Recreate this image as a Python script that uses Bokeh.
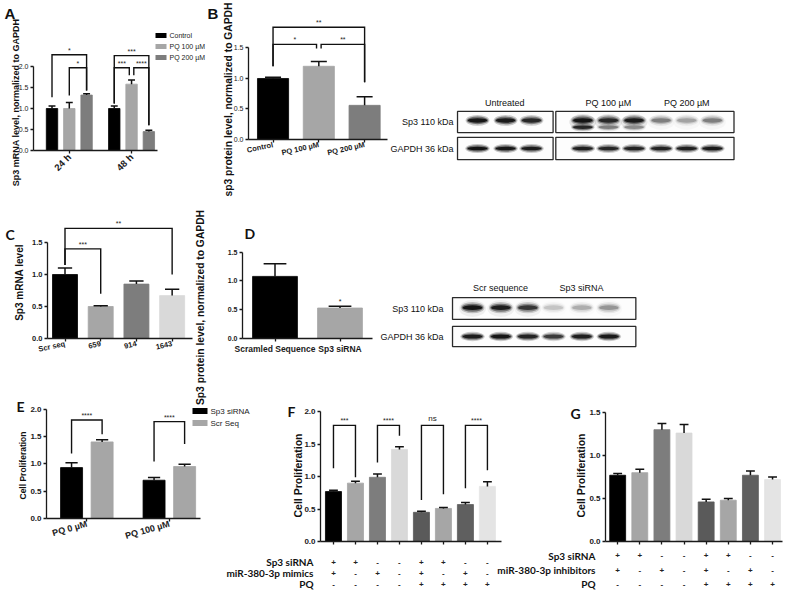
import math
from bokeh.plotting import figure
from bokeh.models import Range1d, FixedTicker, NumeralTickFormatter, ColumnDataSource
from bokeh.layouts import row, column
from bokeh.core.properties import value
from bokeh.embed import file_html
from bokeh.resources import INLINE

ARIAL = "Liberation Sans"
CAL = "Lato"

# ---------------- data ----------------
# A: Sp3 mRNA level after PQ treatment
a_times = ["24 h", "48 h"]
a_series = ["Control", "PQ 100 µM", "PQ 200 µM"]
a_values = [[1.00, 1.00], [1.00, 1.58], [1.32, 0.45]]
a_errors = [[0.06, 0.06], [0.14, 0.10], [0.03, 0.03]]
a_colors = ["#000000", "#a6a6a6", "#7d7d7d"]
# (text, bar i, bar j, height, leg i end, leg j end, shift i, shift j)
a_brackets = [("*", 0, 2, 2.28, 1.27, 1.43, 0, 0), ("*", 1, 2, 1.97, 1.31, 1.43, 0, 0),
              ("***", 3, 5, 2.26, 1.12, 0.60, 0, 0), ("***", 3, 4, 1.97, 1.12, 1.79, 0, -0.13),
              ("****", 4, 5, 1.97, 1.79, 0.60, 0.13, 0)]

# B: Sp3 protein level
b_labels = ["Control", "PQ 100 µM", "PQ 200 µM"]
b_values = [1.00, 1.20, 0.56]
b_errors = [0.02, 0.08, 0.14]
b_colors = ["#000000", "#a6a6a6", "#7d7d7d"]
b_brackets = [("**", 0, 2, 1.84, 1.20, 0.94, 0, 0), ("*", 0, 1, 1.56, 1.20, 1.49, 0, -0.05),
              ("**", 1, 2, 1.56, 1.49, 0.94, 0.05, 0)]

# Western blot 1
b1_lanes = [0.0, 1.04, 2.0, 3.9, 4.85, 5.8, 6.8, 7.75, 8.7]
b1_sp3 = [0.95, 0.92, 0.82, 0.95, 0.80, 0.90, 0.38, 0.25, 0.38]
b1_sp3_low = [0.0, 0.0, 0.0, 0.80, 0.35, 0.30, 0.0, 0.0, 0.0]
b1_smear = [0.0, 0.0, 0.0, 0.55, 0.45, 0.45, 0.15, 0.12, 0.15]
b1_gapdh = [0.98, 0.95, 0.90, 0.88, 0.82, 0.85, 0.85, 0.88, 0.92]
b1_headers = ["Untreated", "PQ 100 µM", "PQ 200 µM"]
b1_header_lanes = [(0, 3), (3, 6), (6, 9)]
b1_membranes = [(0, 3), (3, 9)]
b1_rows = ["Sp3 110 kDa", "GAPDH 36 kDa"]

# C: Sp3 mRNA after siRNA
c_labels = ["Scr seq", "659", "914", "1643"]
c_values = [1.00, 0.50, 0.85, 0.67]
c_errors = [0.10, 0.01, 0.05, 0.10]
c_colors = ["#000000", "#a6a6a6", "#7d7d7d", "#d9d9d9"]
c_brackets = [("**", 0, 3, 1.72, 1.15, 1.00, 0, 0), ("***", 0, 1, 1.40, 1.15, 0.70, 0, 0)]

# D: Sp3 protein after siRNA
d_labels = ["Scramled Sequence", "Sp3 siRNA"]
d_values = [1.08, 0.53]
d_errors = [0.22, 0.03]
d_colors = ["#000000", "#a6a6a6"]
d_marks = ["", "*"]

# Western blot 2
b2_lanes = [0.0, 1.05, 2.05, 3.0, 4.05, 5.05]
b2_sp3 = [0.95, 0.88, 0.72, 0.15, 0.22, 0.30]
b2_gapdh = [0.90, 0.95, 0.85, 0.70, 0.88, 0.92]
b2_headers = ["Scr sequence", "Sp3 siRNA"]
b2_header_lanes = [(0, 3), (3, 6)]
b2_membranes = [(0, 6)]
b2_rows = ["Sp3 110 kDa", "GAPDH 36 kDa"]

# E: cell proliferation
e_groups = ["PQ 0 µM", "PQ 100 µM"]
e_series = ["Sp3 siRNA", "Scr Seq"]
e_values = [[0.93, 0.70], [1.40, 0.95]]
e_errors = [[0.09, 0.05], [0.04, 0.04]]
e_colors = ["#000000", "#a6a6a6"]
e_brackets = [("****", 0, 1, 1.80, 1.19, 1.54, 0, 0), ("****", 2, 3, 1.77, 1.04, 1.36, 0, 0)]

# F: miR-380-3p mimics
f_values = [0.77, 0.90, 0.99, 1.42, 0.45, 0.51, 0.57, 0.85]
f_errors = [0.02, 0.03, 0.05, 0.04, 0.015, 0.015, 0.03, 0.07]
fg_colors = ["#000000", "#a6a6a6", "#7d7d7d", "#d9d9d9", "#5a5a5a", "#a6a6a6", "#5f5f5f", "#e4e4e4"]
f_rows = ["Sp3 siRNA", "miR-380-3p mimics", "PQ"]
fg_signs = [["+", "+", "-", "-", "+", "+", "-", "-"],
            ["+", "-", "+", "-", "+", "-", "+", "-"],
            ["-", "-", "-", "-", "+", "+", "+", "+"]]
f_brackets = [("***", 0, 1, 1.79, 1.13, 0.99, 0, 0), ("****", 2, 3, 1.79, 1.22, 1.63, 0, 0),
              ("ns", 4, 5, 1.79, 0.64, 0.73, 0, 0), ("****", 6, 7, 1.79, 0.82, 1.10, 0, 0)]

# G: miR-380-3p inhibitors
g_values = [0.77, 0.80, 1.30, 1.26, 0.46, 0.48, 0.77, 0.72]
g_errors = [0.02, 0.04, 0.07, 0.10, 0.03, 0.02, 0.05, 0.03]
g_rows = ["Sp3 siRNA", "miR-380-3p inhibitors", "PQ"]

OW, OH = 784, 590


# ---------------- helpers ----------------
def panel(w, h, fl, fr, ft, fb, xr, yr, **kw):
    p = figure(width=w, height=h, x_range=Range1d(*xr), y_range=Range1d(*yr),
               min_border_left=fl, min_border_right=fr, min_border_top=ft, min_border_bottom=fb,
               output_backend="svg", toolbar_location=None, **kw)
    p.outline_line_color = None
    p.xgrid.visible = False
    p.ygrid.visible = False
    p.background_fill_alpha = 0
    p.border_fill_alpha = 0
    return p


def axes(p, yticks, ytop, xticks, xlabels, ysize, xsize, xangle=0.0, ybold=True, xbold=True):
    for ax in (p.xaxis[0], p.yaxis[0]):
        ax.axis_line_color = "#1a1a1a"
        ax.axis_line_width = 1.3
        ax.major_tick_line_color = "#1a1a1a"
        ax.major_tick_line_width = 1.3
        ax.major_tick_out = 3
        ax.major_tick_in = 0
        ax.minor_tick_line_color = None
        ax.major_label_text_font = ARIAL
        ax.major_label_text_color = "#1a1a1a"
        ax.major_label_standoff = 2
    ya = p.yaxis[0]
    ya.ticker = FixedTicker(ticks=yticks)
    ya.formatter = NumeralTickFormatter(format="0.0")
    ya.bounds = (0, ytop)
    ya.major_label_text_font_size = f"{ysize}px"
    ya.major_label_text_font_style = "bold" if ybold else "normal"
    xa = p.xaxis[0]
    xa.ticker = FixedTicker(ticks=xticks)
    xa.major_label_overrides = {t: l for t, l in zip(xticks, xlabels)}
    xa.major_label_text_font_size = f"{xsize}px"
    xa.major_label_text_font_style = "bold" if xbold else "normal"
    if xangle:
        xa.major_label_orientation = xangle


def draw_bars(p, xs, tops, errs, colors, width, cap):
    src = ColumnDataSource(dict(x=xs, top=tops, color=colors,
                                hi=[t + e for t, e in zip(tops, errs)],
                                c0=[x - cap / 2 for x in xs], c1=[x + cap / 2 for x in xs]))
    p.vbar(x="x", top="top", width=width, fill_color="color", line_color="color",
           line_width=0.8, source=src)
    p.segment(x0="x", y0="top", x1="x", y1="hi", line_color="#111111", line_width=1.5, source=src)
    p.segment(x0="c0", y0="hi", x1="c1", y1="hi", line_color="#111111", line_width=1.5, source=src)


def draw_brackets(p, xs, specs, size):
    for txt, i, j, y, ya, yb, da, db in specs:
        x0 = xs[i] + da
        x1 = xs[j] + db
        p.line(x=[x0, x0, x1, x1], y=[ya, y, y, yb], line_color="#111111", line_width=1.4,
               line_join="miter")
        big = txt == "ns"
        p.text(x=[(x0 + x1) / 2], y=[y], text=[txt], text_align="center", text_baseline="bottom",
               y_offset=-1 if not big else -2, text_font=value(ARIAL),
               text_font_size=f"{size + 1 if big else size}px", text_color="#222222")


# ---------------- Row 1 ----------------
A = panel(200, 200, 33, 43, 12, 50, (-0.07, 7.1), (0, 3.286))
a_centers = [2.0, 5.6]
a_offsets = [-1.0, 0.0, 1.0]
a_x = [c + o for c in a_centers for o in a_offsets]
for s in range(len(a_series)):
    draw_bars(A, [c + a_offsets[s] for c in a_centers], a_values[s], a_errors[s],
              [a_colors[s]] * len(a_centers), 0.66, 0.4)
draw_brackets(A, a_x, a_brackets, 7)
axes(A, [0, 0.5, 1.0, 1.5, 2.0], 2.0, a_centers, a_times, 7, 9.5, math.pi / 4, ybold=False)

B = panel(188, 200, 48, 1, 12, 50, (-0.536, 2.5), (0, 2.262), margin=(-11, 0, 0, 0))
b_x = [float(i) for i in range(len(b_values))]
draw_bars(B, b_x, b_values, b_errors, b_colors, 0.68, 0.35)
draw_brackets(B, b_x, b_brackets, 7)
axes(B, [0, 0.5, 1.0, 1.5], 1.5, b_x, b_labels, 7, 7.5, 0.22, ybold=False)

# ---------------- Row 2 ----------------
C = panel(196, 190, 47, 4, 10, 52, (-0.49, 3.57), (0, 2.0))
c_x = [float(i) for i in range(len(c_values))]
draw_bars(C, c_x, c_values, c_errors, c_colors, 0.7, 0.4)
draw_brackets(C, c_x, c_brackets, 7)
axes(C, [0, 0.5, 1.0, 1.5], 1.5, c_x, c_labels, 7.5, 7.5, 0.22)

D = panel(184, 190, 46, 8, 10, 52, (-0.5, 1.5), (0, 2.226))
d_x = [float(i) for i in range(len(d_values))]
draw_bars(D, d_x, d_values, d_errors, d_colors, 0.69, 0.35)
D.text(x=d_x, y=[v + e for v, e in zip(d_values, d_errors)], text=d_marks, text_align="center",
       text_baseline="bottom", y_offset=-1, text_font=value(ARIAL), text_font_size="7px",
       text_color="#222222")
axes(D, [0, 0.5, 1.0, 1.5], 1.5, d_x, d_labels, 7, 8.5)

# ---------------- Row 3 ----------------
E = panel(290, 200, 46, 90, 8, 49, (-0.82, 4.22), (0, 2.614), margin=(-23, 0, 0, 0))
e_centers = [0.5, 3.2]
e_offsets = [-0.5, 0.5]
e_x = [c + o for c in e_centers for o in e_offsets]
for s in range(len(e_series)):
    draw_bars(E, [c + e_offsets[s] for c in e_centers], e_values[s], e_errors[s],
              [e_colors[s]] * len(e_centers), 0.72, 0.4)
draw_brackets(E, e_x, e_brackets, 7)
axes(E, [0, 0.5, 1.0, 1.5, 2.0], 2.0, e_centers, e_groups, 8, 9, 0.28)

f_xr = (-0.59, 7.64)
F = panel(215, 200, 30, 4, 8, 49, f_xr, (0, 2.205))
f_x = [float(i) for i in range(len(f_values))]
draw_bars(F, f_x, f_values, f_errors, fg_colors, 0.73, 0.4)
draw_brackets(F, f_x, f_brackets, 7)
axes(F, [0, 0.5, 1.0, 1.5, 2.0], 2.0, f_x, [""] * len(f_x), 8, 8)

g_xr = (-0.55, 7.45)
G = panel(279, 200, 100, 2, 8, 49, g_xr, (0, 1.662))
g_x = [float(i) for i in range(len(g_values))]
draw_bars(G, g_x, g_values, g_errors, fg_colors, 0.72, 0.4)
axes(G, [0, 0.5, 1.0, 1.5], 1.5, g_x, [""] * len(g_x), 8, 8)

# ---------------- overlay: blots, titles, letters, legends, condition tables ----------------
ov = figure(width=OW, height=OH, x_range=Range1d(0, OW), y_range=Range1d(0, OH),
            min_border_left=0, min_border_right=0, min_border_top=0, min_border_bottom=0,
            x_axis_location=None, y_axis_location=None, output_backend="svg",
            toolbar_location=None, margin=(-OH, 0, 0, 0))
ov.outline_line_color = None
ov.grid.visible = False
ov.background_fill_alpha = 0
ov.border_fill_alpha = 0


def page_range(page_at_zero, px_per_unit):
    start = -page_at_zero / px_per_unit
    return Range1d(start, start + OW / px_per_unit)


def page_yrange(page_at_zero, px_per_unit):
    # unit values grow downwards on the page
    return Range1d((OH - page_at_zero) / px_per_unit, -page_at_zero / px_per_unit)


ov.extra_x_ranges = {
    "F": page_range(320 - f_xr[0] * 181 / (f_xr[1] - f_xr[0]), 181 / (f_xr[1] - f_xr[0])),
    "G": page_range(605 - g_xr[0] * 177 / (g_xr[1] - g_xr[0]), 177 / (g_xr[1] - g_xr[0])),
    "b1x": page_range(477, 27.0),
    "b2x": page_range(472, 27.0),
}
ov.extra_y_ranges = {"b1y": page_yrange(121.5, 26.5), "b2y": page_yrange(308, 28.0)}


def ov_text(x, y, text, size, font=ARIAL, bold=True, align="left", baseline="top", angle=0.0):
    ov.text(x=[x], y=[OH - y], text=[text], angle=angle, text_align=align, text_baseline=baseline,
            text_font=value(font), text_font_size=f"{size}px",
            text_font_style="bold" if bold else "normal", text_color="#111111")


def draw_blot(xn, yn, lanes, sp3, gapdh, mems, pads, halves, headers, header_lanes, header_y,
              rows, gap, sp3_y, low=None, smear=None, smear_k=0.18):
    kw = dict(x_range_name=xn, y_range_name=yn)
    left = [lanes[a] - pl for (a, b), (pl, pr) in zip(mems, pads)]
    right = [lanes[b - 1] + pr for (a, b), (pl, pr) in zip(mems, pads)]
    for r, half in zip((0, 1), halves):
        ov.quad(left=left, right=right, top=[r - half] * len(left), bottom=[r + half] * len(left),
                fill_color="#fdfdfd", line_color="#2a2a2a", line_width=1.3, **kw)
    if smear is not None:
        ov.ellipse(x=lanes, y=[0.0] * len(lanes), width=1.0, height=0.6, fill_color="#000000",
                   fill_alpha=[smear_k * v for v in smear], line_color=None, **kw)

    def bands(y, inten, w, h):
        for sw, sh, a in ((1.1, 1.7, 0.22), (1.0, 1.2, 0.45), (0.9, 0.7, 0.85)):
            ov.ellipse(x=lanes, y=[y] * len(lanes), width=w * sw, height=h * sh,
                       fill_color="#000000", fill_alpha=[min(1.0, a * v) for v in inten],
                       line_color=None, **kw)

    bands(sp3_y, sp3, 0.8, 0.24)
    if low is not None:
        bands(0.2, low, 0.8, 0.18)
    bands(1.0, gapdh, 0.82, 0.2)
    ov.text(x=[sum(lanes[a:b]) / (b - a) for a, b in header_lanes], y=[header_y] * len(headers),
            text=headers, text_align="center", text_baseline="middle", text_font=value(ARIAL),
            text_font_size="9px", text_color="#111111", **kw)
    ov.text(x=[min(left) - gap] * 2, y=[0, 1], text=rows, text_align="right",
            text_baseline="middle", text_font=value(ARIAL), text_font_size="9px",
            text_color="#111111", **kw)


draw_blot("b1x", "b1y", b1_lanes, b1_sp3, b1_gapdh, b1_membranes, [(0.74, 0.8), (1.0, 0.8)],
          (0.40, 0.42), b1_headers, b1_header_lanes, -0.7, b1_rows, 0.15, -0.06,
          low=b1_sp3_low, smear=b1_smear)
draw_blot("b2x", "b2y", b2_lanes, b2_sp3, b2_gapdh, b2_membranes, [(0.74, 1.0)],
          (0.39, 0.36), b2_headers, b2_header_lanes, -0.72, b2_rows, 0.33, -0.03,
          smear=b2_sp3, smear_k=0.06)

# panel letters
ov_text(4, 4, "A", 15)
ov_text(207, 4, "B", 15)
ov_text(5, 225, "C", 14, font=CAL)
ov_text(244, 224, "D", 14, font=CAL)
ov_text(16, 397, "E", 14, font=CAL)
ov_text(287, 402, "F", 14, font=CAL)
ov_text(570, 404, "G", 14, font=CAL)

# y-axis titles
up = math.pi / 2
ov_text(15, 102, "Sp3 mRNA level, normalized to GAPDH", 9, align="center", baseline="middle", angle=up)
ov_text(228, 99, "sp3 protein level, normalized to GAPDH", 10.3, align="center", baseline="middle", angle=up)
ov_text(18.5, 282, "Sp3 mRNA level", 10, align="center", baseline="middle", angle=up)
ov_text(200, 307, "Sp3 protein level, normalized to GAPDH", 10.3, align="center", baseline="middle", angle=up)
ov_text(22, 465, "Cell Proliferation", 8.5, align="center", baseline="middle", angle=up)
ov_text(297, 475, "Cell Proliferation", 10.5, align="center", baseline="middle", angle=up)
ov_text(580, 475, "Cell Proliferation", 10.5, align="center", baseline="middle", angle=up)

# legends
a_leg_y = [35, 46, 57]
ov.rect(x=[160.5] * 3, y=[OH - y for y in a_leg_y], width=11, height=5, fill_color=a_colors,
        line_color=None)
ov.text(x=[169] * 3, y=[OH - y for y in a_leg_y], text=a_series, text_align="left",
        text_baseline="middle", text_font=value(ARIAL), text_font_size="7px", text_color="#222222")
e_leg_y = [410.5, 422.5]
ov.rect(x=[199.5] * 2, y=[OH - y for y in e_leg_y], width=15, height=6, fill_color=e_colors,
        line_color=None)
ov.text(x=[210] * 2, y=[OH - y for y in e_leg_y], text=e_series, text_align="left",
        text_baseline="middle", text_font=value(ARIAL), text_font_size="8px", text_color="#222222")

# condition tables under F and G
for name, labels, xs, ys, lab_right in (("F", f_rows, f_x, [561.5, 572.5, 583.5], 313),
                                        ("G", g_rows, g_x, [555, 569.5, 583.5], 595)):
    for lab, signs, y in zip(labels, fg_signs, ys):
        ov_text(lab_right, y, lab, 10, font=CAL, align="right", baseline="middle")
        ov.text(x=xs, y=[OH - y] * len(xs), text=signs, x_range_name=name, text_align="center",
                text_baseline="middle", text_font=value(ARIAL), text_font_size="8px",
                text_font_style="bold", text_color="#222222")

layout = column(row(A, B), row(C, D), row(E, F, G), ov)
open("out.html", "w").write(file_html(layout, INLINE, title="Sp3 figure"))
